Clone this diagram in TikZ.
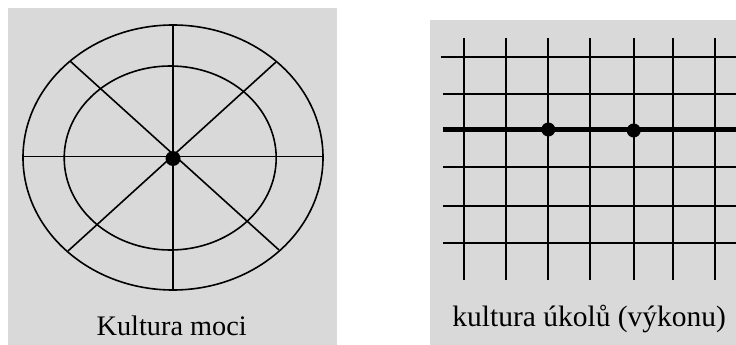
\documentclass[tikz,border=0pt]{standalone}
\usepackage{fontspec}
\setmainfont{Liberation Serif}
\definecolor{panelgray}{HTML}{D9D9D9}
\begin{document}
\begin{tikzpicture}[x=1pt,y=-1pt,
  thinline/.style={line width=1.6pt,black},
  gridline/.style={line width=1.9pt,black},
  boldline/.style={line width=4.8pt,black},
  dotmark/.style={circle,fill=black,inner sep=0pt,minimum size=14pt},
  caption/.style={anchor=base,inner sep=0pt}]
\useasboundingbox (0,0) rectangle (736,345);
\fill[white] (0,0) rectangle (736,345);
% panels
\fill[panelgray] (8,8) rectangle (336.7,345);
\fill[panelgray] (430,20) rectangle (736,345);
% left: power culture
\draw[thinline] (173,157.5) ellipse [x radius=150, y radius=132.5];
\draw[thinline] (170.2,158) ellipse [x radius=106, y radius=92];
\draw[thinline] (23,156.5) -- (323,156.5);
\draw[thinline] (173,25) -- (173,290);
\draw[thinline] (70,61) -- (279,250);
\draw[thinline] (276,62) -- (68,251);
\node[dotmark,minimum size=15pt] (c) at (173,158.5) {};
\node[caption,font=\fontsize{28.3}{30}\selectfont] (t1) at (171.7,335) {Kultura moci};
% right: task culture
\foreach \x in {464.3,506.3,548.3,590,633.7,673.3,715.3}
  \draw[gridline] (\x,38) -- (\x,279.5);
\draw[gridline] (440.7,57.3) -- (736,57.3);
\foreach \y in {94.3,166.7,206,242.7}
  \draw[gridline] (442.7,\y) -- (736,\y);
\draw[boldline] (442.7,129.5) -- (736,129.5);
\node[dotmark] (d1) at (548.3,129.5) {};
\node[dotmark] (d2) at (633.7,130.5) {};
\node[caption,font=\fontsize{29.5}{31}\selectfont] (t2) at (589.2,326.7) {kultura úkolů (výkonu)};
\end{tikzpicture}
\end{document}
